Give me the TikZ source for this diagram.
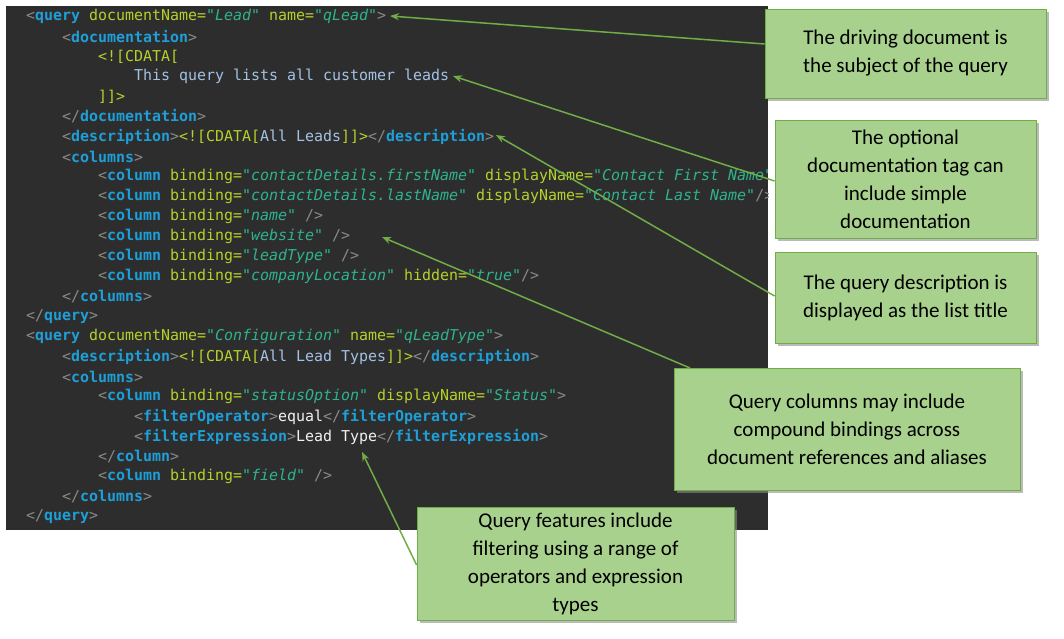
\documentclass[tikz,border=0pt]{standalone}
\usepackage{fontspec}
\setmainfont{Carlito}
\newfontfamily\cmono{DejaVu Sans Mono}
\usetikzlibrary{arrows.meta,shadows}
\definecolor{bgc}{HTML}{2D2D2D}
\definecolor{pc}{HTML}{8A8A8A}
\definecolor{tc}{HTML}{1E9FD8}
\definecolor{ac}{HTML}{B4D22A}
\definecolor{vc}{HTML}{2EB38E}
\definecolor{xc}{HTML}{A4C2E4}
\definecolor{gfill}{HTML}{A9D18E}
\definecolor{gline}{HTML}{70AD47}
\newcommand{\Pp}[1]{\textcolor{pc}{#1}}
\newcommand{\Tg}[1]{\textcolor{tc}{\bfseries #1}}
\newcommand{\At}[1]{\textcolor{ac}{#1}}
\newcommand{\Va}[1]{\textcolor{vc}{\itshape #1}}
\newcommand{\Tx}[1]{\textcolor{xc}{#1}}
\newcommand{\Wt}[1]{\textcolor{white!90!gray}{#1}}
\tikzset{
 cl/.style={anchor=west,inner sep=0pt,font=\cmono\fontsize{14.95}{16}\selectfont},
 box/.style={draw=gline,fill=gfill,line width=0.8pt,align=center,font=\fontsize{21}{28}\selectfont,text=black,
   drop shadow={shadow xshift=3pt,shadow yshift=-3pt,fill=black!45,opacity=0.6}},
 arr/.style={draw=gline,line width=1.5pt,-{Stealth[length=9pt,width=7pt]}}
}
\begin{document}
\begin{tikzpicture}[x=1pt,y=-1pt]
\useasboundingbox (0,0) rectangle (1064,638);
\fill[bgc] (6,6) rectangle (768,530);
\begin{scope}
\clip (6,6) rectangle (768,530);
\def\L#1#2#3{\node[cl] (l#1) at ({26+36*#2},{16.5+20*#1}) {#3};}
\L{0}{0}{\Pp{<}\Tg{query} \At{documentName=}\Va{"Lead"} \At{name=}\Va{"qLead"}\Pp{>}}
\L{1}{1}{\Pp{<}\Tg{documentation}\Pp{>}}
\L{2}{2}{\At{<![CDATA[}}
\L{3}{3}{\Tx{This query lists all customer leads}}
\L{4}{2}{\At{]]>}}
\L{5}{1}{\Pp{</}\Tg{documentation}\Pp{>}}
\L{6}{1}{\Pp{<}\Tg{description}\Pp{>}\At{<![CDATA[}\Tx{All Leads}\At{]]>}\Pp{</}\Tg{description}\Pp{>}}
\L{7}{1}{\Pp{<}\Tg{columns}\Pp{>}}
\L{8}{2}{\Pp{<}\Tg{column} \At{binding=}\Va{"contactDetails.firstName"} \At{displayName=}\Va{"Contact First Name"}\Pp{/>}}
\L{9}{2}{\Pp{<}\Tg{column} \At{binding=}\Va{"contactDetails.lastName"} \At{displayName=}\Va{"Contact Last Name"}\Pp{/>}}
\L{10}{2}{\Pp{<}\Tg{column} \At{binding=}\Va{"name"} \Pp{/>}}
\L{11}{2}{\Pp{<}\Tg{column} \At{binding=}\Va{"website"} \Pp{/>}}
\L{12}{2}{\Pp{<}\Tg{column} \At{binding=}\Va{"leadType"} \Pp{/>}}
\L{13}{2}{\Pp{<}\Tg{column} \At{binding=}\Va{"companyLocation"} \At{hidden=}\Va{"true"}\Pp{/>}}
\L{14}{1}{\Pp{</}\Tg{columns}\Pp{>}}
\L{15}{0}{\Pp{</}\Tg{query}\Pp{>}}
\L{16}{0}{\Pp{<}\Tg{query} \At{documentName=}\Va{"Configuration"} \At{name=}\Va{"qLeadType"}\Pp{>}}
\L{17}{1}{\Pp{<}\Tg{description}\Pp{>}\At{<![CDATA[}\Tx{All Lead Types}\At{]]>}\Pp{</}\Tg{description}\Pp{>}}
\L{18}{1}{\Pp{<}\Tg{columns}\Pp{>}}
\L{19}{2}{\Pp{<}\Tg{column} \At{binding=}\Va{"statusOption"} \At{displayName=}\Va{"Status"}\Pp{>}}
\L{20}{3}{\Pp{<}\Tg{filterOperator}\Pp{>}\Wt{equal}\Pp{</}\Tg{filterOperator}\Pp{>}}
\L{21}{3}{\Pp{<}\Tg{filterExpression}\Pp{>}\Wt{Lead Type}\Pp{</}\Tg{filterExpression}\Pp{>}}
\L{22}{2}{\Pp{</}\Tg{column}\Pp{>}}
\L{23}{2}{\Pp{<}\Tg{column} \At{binding=}\Va{"field"} \Pp{/>}}
\L{24}{1}{\Pp{</}\Tg{columns}\Pp{>}}
\L{25}{0}{\Pp{</}\Tg{query}\Pp{>}}
\end{scope}
\coordinate (t1) at (390,16);
\coordinate (t2) at (453,76);
\coordinate (t3) at (496,135);
\coordinate (t4) at (382,237);
\coordinate (t5) at (362,452);
\node[box,minimum width=281pt,minimum height=89pt] (b1) at (905.5,53.5) {The driving document is\\the subject of the query};
\node[box,minimum width=261pt,minimum height=118pt] (b2) at (905.5,179) {The optional\\documentation tag can\\include simple\\documentation};
\node[box,minimum width=261pt,minimum height=91pt] (b3) at (905.5,297.5) {The query description is\\displayed as the list title};
\node[box,minimum width=346pt,minimum height=122pt] (b4) at (847,429) {Query columns may include\\compound bindings across\\document references and aliases};
\node[box,minimum width=317pt,minimum height=113pt] (b5) at (575.5,563.5) {Query features include\\filtering using a range of\\operators and expression\\types};
\draw[arr] (b1.west|-0,44) -- (t1);
\draw[arr] (b2.west|-0,181) -- (t2);
\draw[arr] (b3.west|-0,296) -- (t3);
\draw[arr] (690,368) -- (t4);
\draw[arr] (b5.west|-0,565) -- (t5);
\end{tikzpicture}
\end{document}
